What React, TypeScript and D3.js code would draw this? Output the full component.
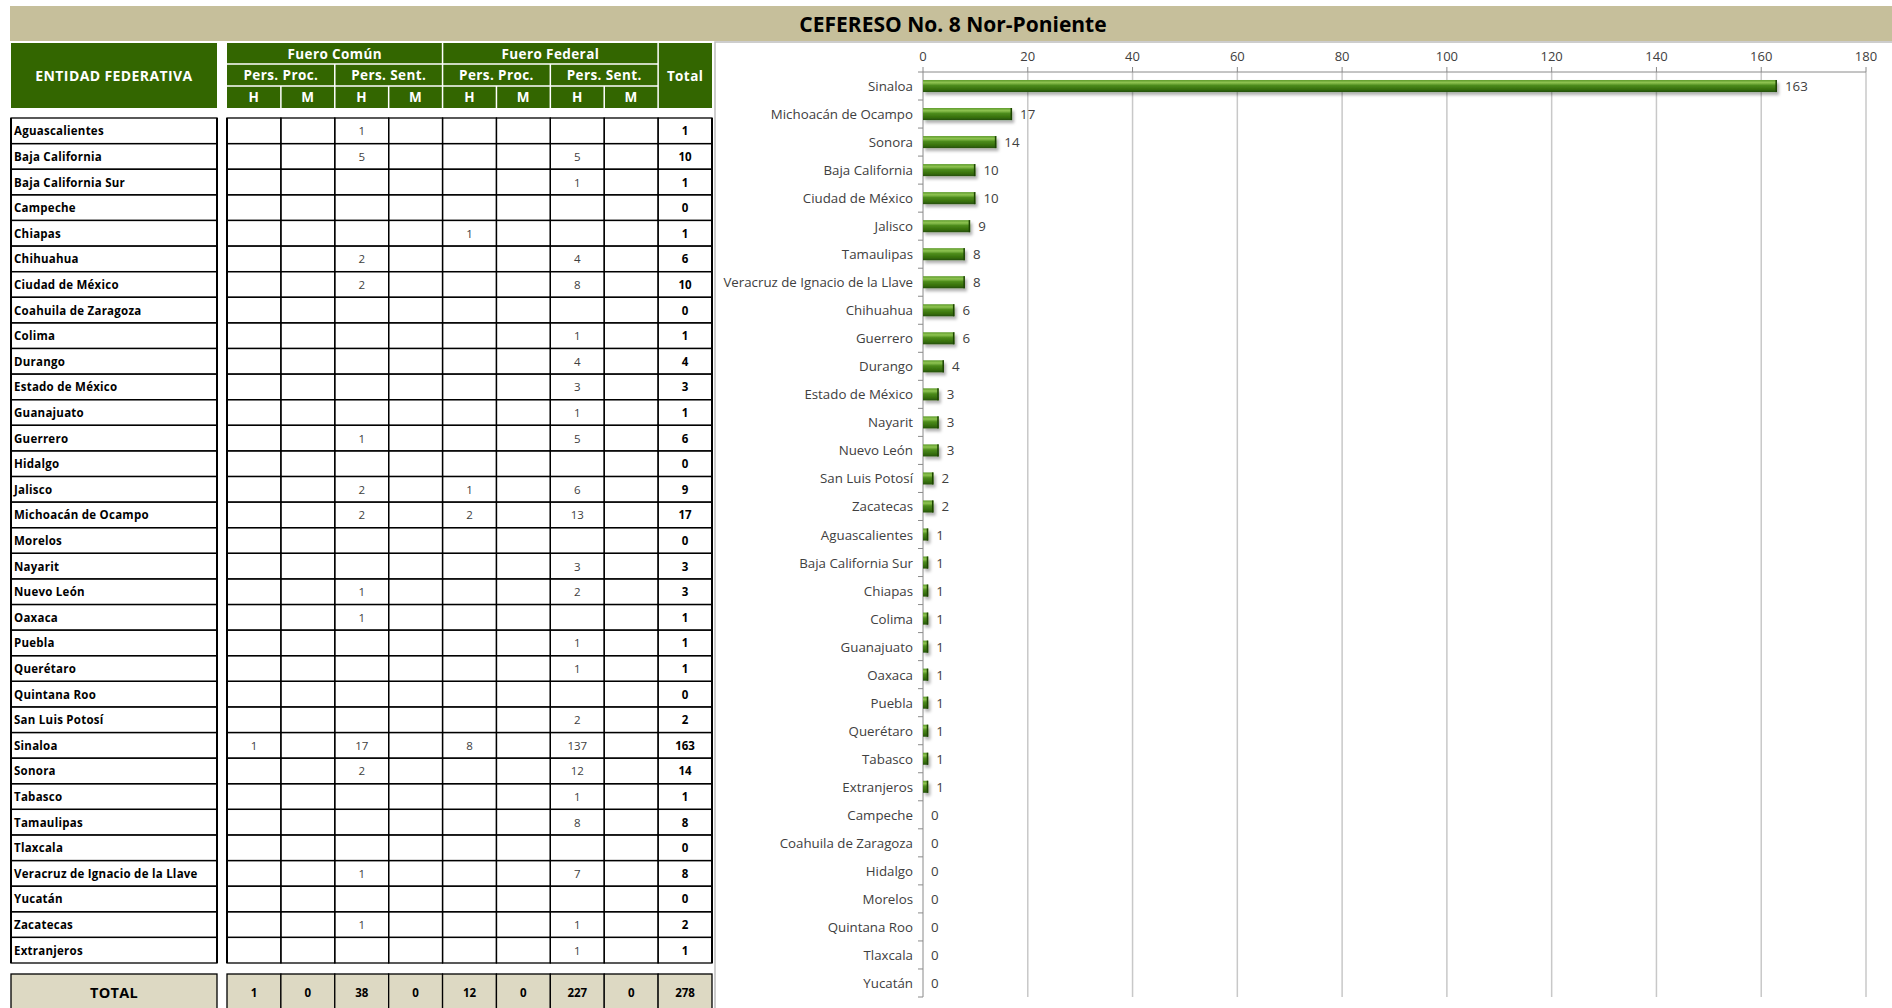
import React from 'react'
import * as d3 from 'd3'

// entidades en el orden de la tabla
const entidades = [
  'Aguascalientes', 'Baja California', 'Baja California Sur', 'Campeche', 'Chiapas',
  'Chihuahua', 'Ciudad de México', 'Coahuila de Zaragoza', 'Colima', 'Durango',
  'Estado de México', 'Guanajuato', 'Guerrero', 'Hidalgo', 'Jalisco',
  'Michoacán de Ocampo', 'Morelos', 'Nayarit', 'Nuevo León', 'Oaxaca',
  'Puebla', 'Querétaro', 'Quintana Roo', 'San Luis Potosí', 'Sinaloa',
  'Sonora', 'Tabasco', 'Tamaulipas', 'Tlaxcala', 'Veracruz de Ignacio de la Llave',
  'Yucatán', 'Zacatecas', 'Extranjeros',
]

// Fuero Común - Pers. Proc. H
const fcProcH = [null, null, null, null, null, null, null, null, null, null, null, null, null, null, null, null, null, null, null, null, null, null, null, null, 1, null, null, null, null, null, null, null, null]
// Fuero Común - Pers. Sent. H
const fcSentH = [1, 5, null, null, null, 2, 2, null, null, null, null, null, 1, null, 2, 2, null, null, 1, 1, null, null, null, null, 17, 2, null, null, null, 1, null, 1, null]
// Fuero Federal - Pers. Proc. H
const ffProcH = [null, null, null, null, 1, null, null, null, null, null, null, null, null, null, 1, 2, null, null, null, null, null, null, null, null, 8, null, null, null, null, null, null, null, null]
// Fuero Federal - Pers. Sent. H
const ffSentH = [null, 5, 1, null, null, 4, 8, null, 1, 4, 3, 1, 5, null, 6, 13, null, 3, 2, null, 1, 1, null, 2, 137, 12, 1, 8, null, 7, null, 1, 1]
// columnas de mujeres: sin registros
const vacio = entidades.map(() => null)

const columnas = [fcProcH, vacio, fcSentH, vacio, ffProcH, vacio, ffSentH, vacio]
const subHeaders = ['H', 'M', 'H', 'M', 'H', 'M', 'H', 'M']
const persHeaders = ['Pers. Proc.', 'Pers. Sent.', 'Pers. Proc.', 'Pers. Sent.']
const fueroHeaders = ['Fuero Común', 'Fuero Federal']

const xTicks = [0, 20, 40, 60, 80, 100, 120, 140, 160, 180]

const titulo = 'CEFERESO No. 8 Nor-Poniente'

const W = 1892
const H = 1008
const FONT = "'Open Sans', 'Noto Sans', sans-serif"

export default function App() {
  const totales = entidades.map((_, i) => d3.sum(columnas, c => c[i] || 0))
  const totalCol = columnas.map(c => d3.sum(c, v => v || 0))
  const granTotal = d3.sum(totales)

  // tabla
  const colX = d3.scaleBand().domain(d3.range(9).map(String)).range([227, 712])
  const cw = colX.bandwidth()
  const rowY = d3.scaleBand().domain(entidades).range([118, 963])
  const rh = rowY.bandwidth()
  const labX0 = 11, labX1 = 217

  // grafica
  const chartData = entidades.map((e, i) => ({ name: e, value: totales[i] }))
  const sorted = d3.sort(chartData, (a, b) => d3.descending(a.value, b.value))
  const x = d3.scaleLinear().domain([0, 180]).range([923, 1866])
  const y = d3.scaleBand().domain(sorted.map(d => d.name)).range([72, 997]).paddingInner(0.57).paddingOuter(0.285)
  const yBand = d3.scaleBand().domain(sorted.map(d => d.name)).range([72, 997])

  const hTop = 43, hR1 = 64, hR2 = 86, hBot = 108
  const hdr = { fill: '#fff', fontWeight: 'bold', fontSize: 13.5, letterSpacing: 0.4, textAnchor: 'middle', dominantBaseline: 'central' } as const

  return (
    <svg width={W} height={H} style={{ position: 'absolute', left: 0, top: 0, background: '#fff' }} fontFamily={FONT}>
      <defs>
        <linearGradient id="barGrad" x1="0" y1="0" x2="0" y2="1">
          <stop offset="0%" stopColor="#5d9a2a" />
          <stop offset="22%" stopColor="#8fc452" />
          <stop offset="45%" stopColor="#4d8c1c" />
          <stop offset="80%" stopColor="#356d0c" />
          <stop offset="100%" stopColor="#25500a" />
        </linearGradient>
        <filter id="sombra" x="-5%" y="-50%" width="110%" height="250%">
          <feDropShadow dx="2" dy="3" stdDeviation="1.8" floodColor="#000" floodOpacity="0.3" />
        </filter>
      </defs>

      {/* titulo */}
      <rect x={10} y={6} width={W - 10} height={35} fill="#c6bf9b" />
      <text x={953} y={24} textAnchor="middle" dominantBaseline="central" fontWeight="bold" fontSize={21} fill="#000">{titulo}</text>

      {/* encabezado */}
      <rect x={labX0} y={hTop} width={labX1 - labX0} height={hBot - hTop} fill="#336600" />
      <text {...hdr} x={(labX0 + labX1) / 2} y={(hTop + hBot) / 2} fontSize={14}>ENTIDAD FEDERATIVA</text>
      <rect x={227} y={hTop} width={712 - 227} height={hBot - hTop} fill="#336600" />
      {fueroHeaders.map((t, k) => (
        <text key={t} {...hdr} x={colX(String(k * 4))! + cw * 2} y={(hTop + hR1) / 2}>{t}</text>
      ))}
      {persHeaders.map((t, k) => (
        <text key={k} {...hdr} x={colX(String(k * 2))! + cw} y={(hR1 + hR2) / 2}>{t}</text>
      ))}
      {subHeaders.map((t, k) => (
        <text key={k} {...hdr} x={colX(String(k))! + cw / 2} y={(hR2 + hBot) / 2}>{t}</text>
      ))}
      <text {...hdr} x={colX('8')! + cw / 2} y={(hTop + hBot) / 2}>Total</text>
      <g stroke="#fff" strokeWidth={1.5}>
        <line x1={227} x2={colX('8')!} y1={hR1} y2={hR1} />
        <line x1={227} x2={colX('8')!} y1={hR2} y2={hR2} />
        {d3.range(1, 9).map(k => {
          const top = k % 4 === 0 ? hTop : k % 2 === 0 ? hR1 : hR2
          return <line key={k} x1={colX(String(k))!} x2={colX(String(k))!} y1={top} y2={hBot} />
        })}
      </g>

      {/* filas */}
      <g stroke="#000" strokeWidth={1.3} fill="none">
        {entidades.map(e => (
          <g key={e}>
            <rect x={labX0} y={rowY(e)!} width={labX1 - labX0} height={rh} />
            {d3.range(9).map(k => (
              <rect key={k} x={colX(String(k))!} y={rowY(e)!} width={cw} height={rh} />
            ))}
          </g>
        ))}
        <line x1={labX0} x2={labX0} y1={118} y2={963} strokeWidth={2} />
        <line x1={labX1} x2={labX1} y1={118} y2={963} strokeWidth={2} />
        <line x1={227} x2={227} y1={118} y2={963} strokeWidth={2} />
        <line x1={712} x2={712} y1={118} y2={963} strokeWidth={2} />
      </g>
      {entidades.map((e, i) => (
        <g key={e} fontSize={11.5}>
          <text x={labX0 + 3} y={rowY(e)! + rh / 2} dominantBaseline="central" fontWeight="bold" letterSpacing={0.25} fill="#000">{e}</text>
          {columnas.map((c, k) => c[i] == null ? null : (
            <text key={k} x={colX(String(k))! + cw / 2} y={rowY(e)! + rh / 2} textAnchor="middle" dominantBaseline="central" fill="#404040">{c[i]}</text>
          ))}
          <text x={colX('8')! + cw / 2} y={rowY(e)! + rh / 2} textAnchor="middle" dominantBaseline="central" fontWeight="bold" fill="#000">{totales[i]}</text>
        </g>
      ))}

      {/* total */}
      <g stroke="#000" strokeWidth={1.3} fill="#ddd9c3">
        <rect x={labX0} y={974} width={labX1 - labX0} height={40} />
        {d3.range(9).map(k => (
          <rect key={k} x={colX(String(k))!} y={974} width={cw} height={40} />
        ))}
      </g>
      <text x={(labX0 + labX1) / 2} y={992} textAnchor="middle" dominantBaseline="central" fontWeight="bold" fontSize={14.5} letterSpacing={0.3}>TOTAL</text>
      {totalCol.map((v, k) => (
        <text key={k} x={colX(String(k))! + cw / 2} y={992} textAnchor="middle" dominantBaseline="central" fontWeight="bold" fontSize={11.5}>{v}</text>
      ))}
      <text x={colX('8')! + cw / 2} y={992} textAnchor="middle" dominantBaseline="central" fontWeight="bold" fontSize={11.5}>{granTotal}</text>

      {/* panel grafica */}
      <rect x={715} y={42} width={W - 715 + 5} height={H} fill="#fff" stroke="#bdbdbd" strokeWidth={1.5} />

      {/* cuadricula */}
      <g stroke="#c8c8c8" strokeWidth={1.5}>
        {xTicks.slice(1).map(t => <line key={t} x1={x(t)} x2={x(t)} y1={72} y2={997} />)}
      </g>
      <g stroke="#8a8a8a" strokeWidth={1}>
        <line x1={x(0)} x2={x(180)} y1={72} y2={72} />
        {xTicks.map(t => <line key={t} x1={x(t)} x2={x(t)} y1={67} y2={72} />)}
        <line x1={x(0)} x2={x(0)} y1={72} y2={997} />
        {sorted.map(d => <line key={d.name} x1={x(0) - 5} x2={x(0)} y1={yBand(d.name)!} y2={yBand(d.name)!} />)}
        <line x1={x(0) - 5} x2={x(0)} y1={997} y2={997} />
      </g>
      {xTicks.map(t => (
        <text key={t} x={x(t)} y={56} textAnchor="middle" dominantBaseline="central" fontSize={13} fill="#404040">{t}</text>
      ))}

      {/* barras */}
      <g filter="url(#sombra)">
        {sorted.filter(d => d.value > 0).map(d => (
          <g key={d.name}>
            <rect x={x(0)} y={y(d.name)!} width={x(d.value) - x(0)} height={y.bandwidth()} fill="url(#barGrad)" />
            <rect x={x(d.value) - 1.5} y={y(d.name)!} width={1.5} height={y.bandwidth()} fill="#1f4506" />
          </g>
        ))}
      </g>
      {sorted.map(d => (
        <g key={d.name} fontSize={13.3} fill="#404040">
          <text x={x(0) - 10} y={yBand(d.name)! + yBand.bandwidth() / 2} textAnchor="end" dominantBaseline="central">{d.name}</text>
          <text x={x(d.value) + 8} y={yBand(d.name)! + yBand.bandwidth() / 2} dominantBaseline="central">{d.value}</text>
        </g>
      ))}
    </svg>
  )
}
